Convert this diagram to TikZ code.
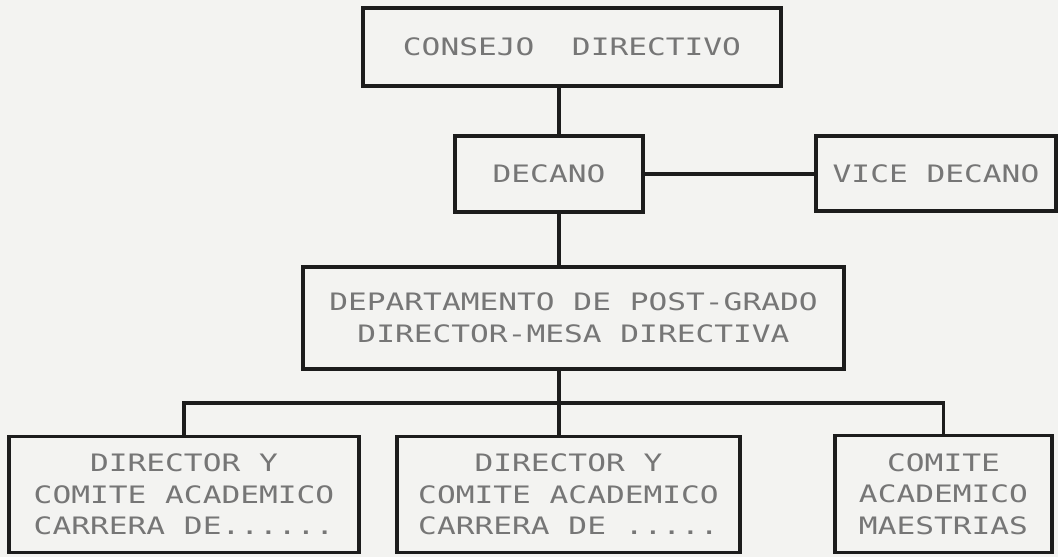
\documentclass[tikz,border=0pt]{standalone}
\usepackage{fontspec}
\newfontfamily\dotfont{DejaVu Sans Mono}[FakeStretch=1.3]
\definecolor{paper}{HTML}{F3F3F1}
\definecolor{ink}{HTML}{1C1C1C}
\definecolor{dots}{HTML}{767676}
\tikzset{
  box/.style={draw=ink, line width=3.2pt, rectangle, inner sep=0pt, align=center,
    text=dots, font=\dotfont\fontsize{24}{31.5}\selectfont},
  link/.style={draw=ink, line width=3.2pt}
}
\begin{document}
\begin{tikzpicture}[x=1pt,y=-1pt]
\fill[paper] (0,0) rectangle (1058,557);
\useasboundingbox (0,0) rectangle (1058,557);

\node[box, minimum width=418pt, minimum height=78pt] (consejo) at (572,47) {CONSEJO~~DIRECTIVO};
\node[box, minimum width=188pt, minimum height=76pt] (decano) at (549,174) {DECANO};
\node[box, minimum width=240pt, minimum height=75pt] (vice) at (936,173.5) {VICE DECANO};
\node[box, minimum width=541pt, minimum height=102pt] (dep) at (573.5,318) {DEPARTAMENTO DE POST-GRADO\\DIRECTOR-MESA DIRECTIVA};
\node[box, minimum width=350pt, minimum height=116pt] (left) at (184,494.5) {DIRECTOR Y\\COMITE ACADEMICO\\CARRERA DE......};
\node[box, minimum width=343pt, minimum height=116pt] (mid) at (568.5,494.5) {DIRECTOR Y\\COMITE ACADEMICO\\CARRERA DE .....};
\node[box, minimum width=217pt, minimum height=117pt] (right) at (943.5,494) {COMITE\\ACADEMICO\\MAESTRIAS};

\coordinate (spine) at (559,0);
\coordinate (bus) at (559,403);

\draw[link] (spine |- consejo.south) -- (spine |- decano.north);
\draw[link] (decano.east) -- (decano.east -| vice.west);
\draw[link] (spine |- decano.south) -- (spine |- dep.north);
\draw[link] (spine |- dep.south) -- (bus);
\draw[link] (left.north) |- (bus) -| (right.north);
\draw[link] (bus) -- (spine |- mid.north);
\end{tikzpicture}
\end{document}
